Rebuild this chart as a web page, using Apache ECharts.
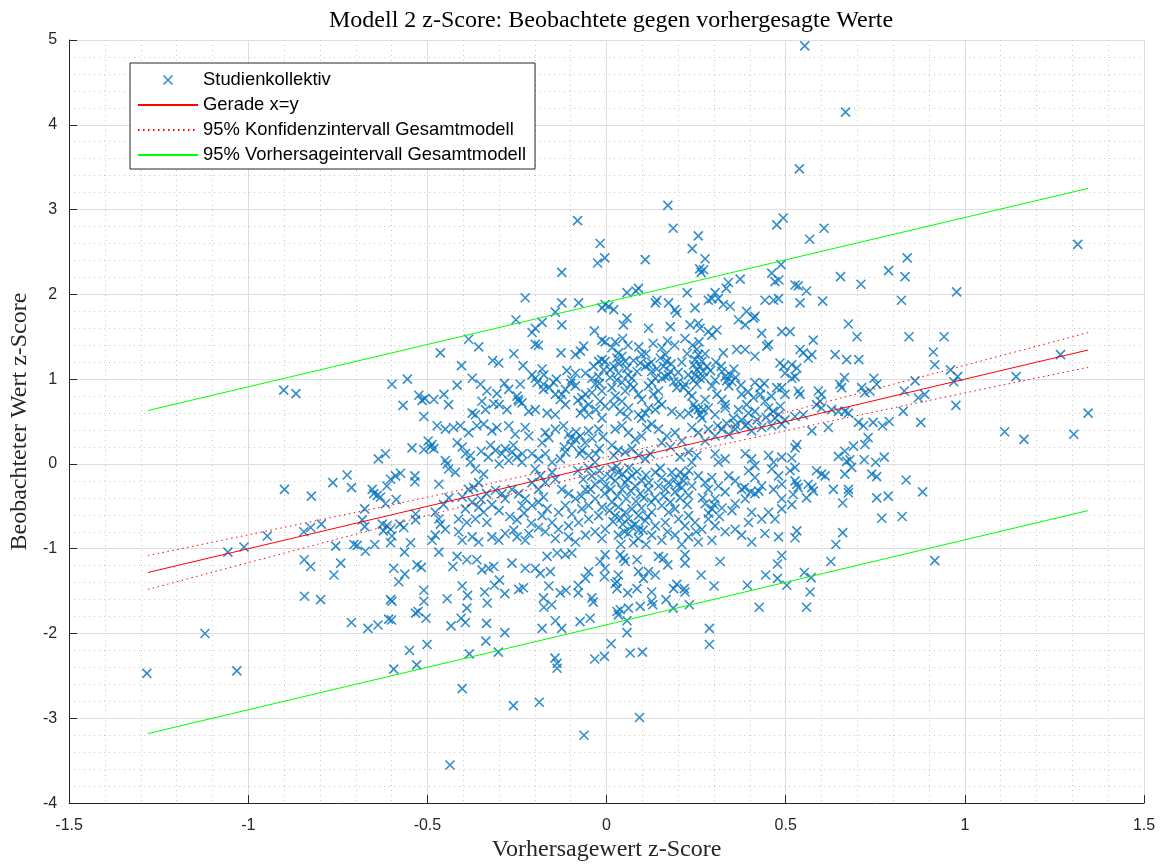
<!DOCTYPE html>
<html>
<head>
<meta charset="utf-8">
<script src="https://cdn.jsdelivr.net/npm/echarts@6/dist/echarts.min.js"></script>
<style>
  html, body { margin: 0; padding: 0; background: #fff; }
  #chart { width: 1164px; height: 867px; }
</style>
</head>
<body>
<div id="chart"></div>
<script>
// Beobachtete z-Scores gegen vorhergesagte z-Scores (Studienkollektiv), [vorhergesagt, beobachtet]
const kollektiv = [
  [-0.081,2.87],[0.171,3.05],[0.186,2.78],[-0.018,2.60],[-0.025,2.37],[-0.005,2.43],[0.108,2.41],[-0.125,2.26],[0.256,2.69],[0.239,2.54],
  [0.275,2.42],[0.26,2.30],[0.271,2.29],[0.264,2.26],[0.475,2.82],[0.493,2.90],[0.487,2.35],[0.461,2.25],[0.470,2.15],[0.481,2.17],
  [0.373,2.18],[0.340,2.14],[0.334,2.07],[0.303,2.02],[0.225,2.02],[0.089,2.07],[0.082,2.04],[0.057,2.02],
  [0.553,4.93],[0.667,4.15],[0.538,3.48],[0.607,2.78],[0.567,2.65],[1.315,2.59],[0.839,2.43],[0.787,2.28],[0.833,2.21],[0.653,2.21],
  [0.710,2.12],[0.526,2.11],[0.535,2.10],[0.558,2.04],[0.977,2.03],
  [-0.901,0.87],[-0.867,0.83],[-0.556,1.00],[-0.599,0.94],[-0.568,0.69],[-0.524,0.81],[-0.515,0.75],[-0.507,0.77],[-0.510,0.56],[-0.543,0.19],
  [-0.510,0.17],[-0.498,0.27],[-0.637,0.06],[-0.617,0.12],[-0.899,-0.30],[-0.824,-0.38],[-0.764,-0.22],[-0.724,-0.13],[-0.712,-0.28],[-0.654,-0.30],
  [-0.650,-0.35],[-0.640,-0.37],[-0.631,-0.39],[-0.617,-0.47],[-0.613,-0.26],[-0.603,-0.18],[-0.589,-0.14],[-0.575,-0.11],[-0.587,-0.42],[-0.535,-0.14],
  [-0.535,-0.21],[-0.675,-0.53],[-0.682,-0.66],[-0.675,-0.74],[-0.626,-0.71],[-0.613,-0.73],[-0.623,-0.79],[-0.603,-0.77],[-0.599,-0.85],[-0.577,-0.71],
  [-0.566,-0.75],[-0.533,-0.59],[-0.533,-0.66],[-0.547,-0.93],[-0.603,-0.93],[-0.647,-0.95],[-0.705,-0.95],[-0.696,-0.96],[-0.756,-0.97],[-0.845,-0.80],
  [-0.826,-0.75],[-0.796,-0.71],[-0.947,-0.85],[-1.012,-0.98],[-1.057,-1.04],
  [-1.121,-2.00],[-1.283,-2.47],[-1.032,-2.44],[-0.844,-1.13],[-0.826,-1.21],[-0.742,-1.17],[-0.761,-1.31],[-0.843,-1.56],[-0.798,-1.60],[-0.712,-1.87],
  [-0.666,-1.94],[-0.638,-1.90],[-0.608,-1.83],[-0.600,-1.84],[-0.603,-1.60],[-0.599,-1.62],[-0.594,-1.23],[-0.563,-1.30],[-0.580,-1.39],[-0.529,-1.19],
  [-0.517,-1.22],[-0.510,-1.49],[-0.510,-1.62],[-0.533,-1.76],[-0.526,-1.74],[-0.504,-1.82],[-0.550,-2.20],[-0.530,-2.37],[-0.594,-2.42],[-0.501,-2.13],
  [-0.673,-1.03],[-0.564,-1.04],
  [-0.437,-3.55],[-0.063,-3.20],[0.092,-2.99],[-0.260,-2.85],[-0.188,-2.81],[-0.403,-2.65],[-0.144,-2.29],[-0.138,-2.35],[-0.138,-2.41],[-0.033,-2.30],
  [-0.006,-2.27],[0.013,-2.12],[0.066,-2.23],[0.100,-2.22],[0.057,-1.99],[0.057,-1.85],[0.287,-1.94],[0.287,-2.13],[-0.383,-2.24],[-0.302,-2.22],
  [-0.337,-2.09],[-0.284,-1.99],[-0.180,-1.94],[-0.143,-1.85],[-0.125,-1.94],[-0.074,-1.86],[-0.046,-1.82],[-0.335,-1.88],[-0.434,-1.91],[-0.406,-1.82],
  [-0.394,-1.87],[-0.39,-1.70],[-0.445,-1.59],[-0.388,-1.55],[-0.403,-1.44],[-0.340,-1.51],[-0.333,-1.64],[-0.284,-1.53],[-0.313,-1.43],[-0.299,-1.37],
  [-0.245,-1.48],[-0.232,-1.46],[-0.176,-1.58],[-0.175,-1.69],[-0.153,-1.66],[-0.161,-1.44],[-0.129,-1.52],[-0.113,-1.49],[-0.079,-1.43],[-0.079,-1.52],
  [-0.041,-1.58],[-0.037,-1.63],[0.029,-1.74],[0.038,-1.72],[0.033,-1.78],[0.061,-1.70],[0.094,-1.68],[0.059,-1.52],[0.085,-1.47],[0.029,-1.39],
  [0.029,-1.47],[0.126,-1.51],[0.126,-1.62],[0.129,-1.66],[0.166,-1.60],[0.186,-1.70],[0.187,-1.47],[0.196,-1.42],[0.217,-1.47],[0.219,-1.51],
  [0.231,-1.66],[0.264,-1.31],[0.300,-1.44],[0.393,-1.43],[0.426,-1.69],[0.444,-1.31],[0.477,-1.35],[0.477,-1.18],[0.489,-1.08],[0.503,-1.43],
  [0.317,-1.15],[0.219,-1.07],[0.219,-1.17],[0.145,-1.09],[0.159,-1.11],[0.171,-1.19],[0.117,-1.27],[0.136,-1.31],[0.103,-1.35],[0.089,-1.27],
  [0.085,-1.13],[0.038,-1.07],[0.047,-1.11],[0.052,-1.15],[0.033,-1.31],[0.024,-1.41],[-0.004,-1.07],[-0.018,-1.15],[-0.004,-1.23],[-0.006,-1.33],
  [-0.05,-1.27],[-0.059,-1.35],[-0.097,-1.05],[-0.115,-1.07],[-0.138,-1.05],[-0.166,-1.09],[-0.157,-1.27],[-0.199,-1.23],[-0.185,-1.29],[-0.227,-1.23],
  [-0.264,-1.17],[-0.348,-1.25],[-0.329,-1.23],[-0.315,-1.21],[-0.362,-1.13],[-0.390,-1.13],[-0.417,-1.09],[-0.429,-1.21],[-0.468,-1.04],
  [0.626,-1.15],[0.916,-1.14],[0.552,-1.28],[0.571,-1.34],[0.568,-1.51],[0.558,-1.69],
  [1.267,1.29],[1.143,1.03],[1.344,0.60],[1.111,0.38],[1.165,0.29],[1.304,0.35],[0.975,0.69],[0.969,0.97],[0.980,1.03],[0.960,1.11],
  [0.916,1.17],[0.912,1.32],[0.942,1.50],[0.844,1.50],[0.823,1.93],[0.861,0.98],[0.831,0.86],[0.870,0.78],[0.888,0.82],[0.828,0.62],
  [0.877,0.49],[0.789,0.50],[0.770,0.45],[0.744,0.49],[0.717,0.45],[0.703,0.49],[0.746,1.01],[0.754,0.94],[0.735,0.86],[0.721,0.84],
  [0.712,0.90],[0.664,1.02],[0.651,0.94],[0.656,0.90],[0.704,1.23],[0.670,1.23],[0.638,1.29],[0.699,1.50],[0.675,1.65],[0.603,1.92],
  [0.540,1.90],[0.577,1.46],[0.540,1.35],[0.549,1.31],[0.573,1.29],[0.563,1.25],[0.517,1.17],[0.531,1.13],[0.526,1.03],[0.535,0.86],
  [0.540,0.82],[0.591,0.86],[0.600,0.82],[0.596,0.74],[0.586,0.70],[0.600,0.66],[0.628,0.64],[0.647,0.62],[0.665,0.62],[0.675,0.60],
  [0.549,0.58],[0.526,0.56],[0.573,0.39],[0.619,0.43],[0.730,0.31],[0.721,0.23],[0.689,0.21],[0.665,0.15],[0.647,0.09],[0.679,0.05],
  [0.670,0.03],[0.684,-0.04],[0.719,0.05],[0.751,0.02],[0.775,0.08],[0.740,-0.12],[0.754,-0.15],[0.665,-0.12],[0.675,-0.30],[0.675,-0.34],
  [0.633,-0.30],[0.659,-0.46],[0.754,-0.40],[0.786,-0.38],[0.836,-0.19],[0.882,-0.33],[0.768,-0.64],[0.825,-0.62],[0.659,-0.81],[0.640,-0.95],
  [0.531,-0.79],[0.526,-0.87],[0.600,-0.12],[0.586,-0.08],[0.610,-0.14],[0.563,-0.24],[0.573,-0.28],[0.577,-0.32],[0.558,-0.40],[0.526,-0.20],
  [0.531,-0.24],[0.535,-0.28],[0.521,-0.36],[0.517,-0.48],[0.526,-0.04],[0.512,-0.08],[0.526,0.19],[0.531,0.23],[0.517,0.07],[0.517,1.01],
  [0.512,1.56],
  [-0.227,1.96],[-0.125,1.90],[-0.078,1.90],[-0.143,1.79],[-0.013,1.84],[-0.004,1.88],[-0.253,1.70],[-0.180,1.67],[-0.199,1.60],[-0.208,1.55],
  [-0.125,1.64],[-0.385,1.47],[-0.357,1.38],[-0.464,1.31],[-0.199,1.41],[-0.190,1.40],[-0.034,1.57],[-0.013,1.46],[-0.004,1.44],[-0.259,1.30],
  [-0.127,1.31],[-0.087,1.29],[-0.073,1.33],[-0.064,1.39],[-0.405,1.16],[-0.318,1.22],[-0.301,1.19],[-0.233,1.16],[-0.180,1.12],[-0.208,1.05],
  [-0.199,1.01],[-0.111,1.10],[-0.087,1.07],[-0.059,1.07],[-0.036,1.15],[-0.022,1.21],[-0.013,1.23],[-0.417,0.93],[-0.375,1.01],[-0.352,0.94],
  [-0.454,0.82],[-0.482,0.76],[-0.441,0.70],[-0.334,0.86],[-0.306,0.83],[-0.348,0.74],[-0.315,0.71],[-0.338,0.64],[-0.273,0.88],[-0.241,0.94],
  [-0.250,0.80],[-0.245,0.74],[-0.194,0.96],[-0.176,0.94],[-0.148,0.96],[-0.176,0.88],[-0.143,0.82],[-0.129,0.76],[-0.125,0.82],[-0.115,0.70],
  [-0.097,0.99],[-0.087,0.92],[-0.069,0.78],[-0.059,0.82],[-0.041,1.01],[-0.032,0.94],[-0.022,1.03],[-0.008,1.11],[-0.004,1.21],[-0.041,0.84],
  [-0.013,0.86],[-0.018,0.74],[-0.004,0.68],[-0.064,0.66],[-0.050,0.58],[-0.073,0.60],[-0.013,0.54],[-0.217,0.62],[-0.199,0.64],[-0.166,0.60],
  [-0.143,0.58],[-0.278,0.64],[-0.236,0.72],[-0.247,0.76],[-0.375,0.60],[-0.366,0.58],[-0.115,0.88],
  [0.006,1.86],[0.020,1.82],[0.057,1.72],[0.047,1.64],[0.117,1.60],[0.140,1.93],[0.136,1.90],[0.173,1.90],[0.191,1.82],[0.196,1.78],
  [0.178,1.62],[0.219,1.48],[0.233,1.64],[0.256,1.66],[0.261,1.60],[0.284,1.56],[0.247,1.84],[0.284,1.93],[0.294,1.95],[0.312,1.95],
  [0.326,1.88],[0.345,1.86],[0.368,1.70],[0.387,1.64],[0.391,1.80],[0.410,1.72],[0.414,1.74],[0.308,1.58],[0.294,1.52],[0.442,1.93],
  [0.466,1.93],[0.480,1.95],[0.433,1.54],[0.489,1.56],[0.452,1.41],[0.447,1.39],[0.363,1.35],[0.387,1.35],[0.414,1.27],[0.326,1.31],
  [0.484,1.19],[0.494,1.15],[0.498,1.07],[0.475,0.90],[0.414,0.96],[0.429,0.90],[0.377,0.82],[0.391,0.70],[0.368,0.64],[0.322,1.09],
  [0.331,1.03],[0.345,1.05],[0.350,0.97],[0.341,0.92],[0.303,0.99],[0.294,0.92],[0.308,0.82],[0.322,0.76],[0.331,0.70],[0.275,0.76],
  [0.270,0.64],[0.284,0.66],[0.252,1.35],[0.256,1.29],[0.247,1.23],[0.243,1.17],[0.266,1.21],[0.261,1.15],[0.252,1.11],[0.247,1.05],
  [0.243,0.99],[0.261,1.01],[0.270,1.09],[0.252,0.94],[0.215,0.90],[0.229,0.84],[0.238,0.80],[0.243,0.70],[0.256,0.64],[0.154,1.37],
  [0.164,1.29],[0.168,1.21],[0.159,1.15],[0.178,1.09],[0.173,1.05],[0.164,1.03],[0.187,0.97],[0.154,1.01],[0.201,0.97],[0.196,0.90],
  [0.219,0.94],[0.098,1.29],[0.094,1.19],[0.108,1.15],[0.117,1.17],[0.126,1.09],[0.136,1.01],[0.126,0.96],[0.117,0.92],[0.145,0.86],
  [0.131,0.82],[0.145,0.74],[0.154,0.70],[0.136,0.64],[0.117,0.66],[0.085,1.09],[0.071,1.01],[0.066,0.94],[0.075,0.90],[0.089,0.82],
  [0.098,0.76],[0.024,1.44],[0.015,1.37],[0.033,1.31],[0.029,1.25],[0.043,1.27],[0.052,1.21],[0.020,1.15],[0.010,1.11],[0.033,1.07],
  [0.057,1.13],[0.029,0.99],[0.043,0.96],[0.015,0.90],[0.052,0.86],[0.024,0.80],[0.043,0.74],[0.020,0.70],[0.061,0.66],[0.038,0.62],
  [0.057,0.56],[0.089,0.58],[0.098,0.54],[0.108,0.60],[0.182,0.62],[0.205,0.58],[0.229,0.60],[0.247,0.66],[0.261,0.58],[0.266,0.54],
  [0.303,0.58],[0.331,0.66],[0.354,0.54],[0.377,0.52],[0.396,0.60],[0.414,0.62],[0.429,0.82],[0.442,0.74],[0.452,0.66],[0.489,0.90],
  [0.498,0.82],[0.480,0.58],[0.470,0.54],[0.498,0.52],
  [-0.473,0.45],[-0.450,0.41],[-0.427,0.43],[-0.408,0.45],[-0.385,0.37],[-0.362,0.45],[-0.343,0.47],[-0.320,0.39],[-0.487,0.23],[-0.492,0.20],
  [-0.482,0.18],[-0.450,0.04],[-0.445,0.00],[-0.468,-0.24],[-0.417,0.25],[-0.403,0.20],[-0.394,0.12],[-0.380,0.10],[-0.366,-0.06],[-0.343,-0.12],
  [-0.357,-0.22],[-0.371,-0.28],[-0.324,0.22],[-0.310,0.16],[-0.292,0.12],[-0.283,0.18],[-0.264,0.14],[-0.250,0.08],[-0.236,0.02],[-0.273,0.04],
  [-0.306,0.43],[-0.273,0.45],[-0.255,0.35],[-0.227,0.43],[-0.217,0.33],[-0.171,0.37],[-0.161,0.31],[-0.180,0.25],[-0.143,0.41],[-0.120,0.45],
  [-0.106,0.35],[-0.087,0.29],[-0.097,0.22],[-0.073,0.33],[-0.050,0.39],[-0.022,0.41],[-0.208,0.12],[-0.190,0.06],[-0.171,0.12],[-0.152,0.02],
  [-0.129,0.06],[-0.115,0.14],[-0.069,0.16],[-0.050,0.10],[-0.032,0.02],[-0.041,-0.14],[-0.032,-0.24],[-0.013,-0.18],[-0.004,-0.26],[-0.059,-0.30],
  [-0.385,-0.30],[-0.403,-0.39],[-0.375,-0.45],[-0.357,-0.51],[-0.394,-0.53],[-0.413,-0.65],[-0.390,-0.69],[-0.366,-0.65],[-0.334,-0.69],[-0.343,-0.57],
  [-0.478,-0.57],[-0.468,-0.65],[-0.464,-0.71],[-0.450,-0.77],[-0.478,-0.84],[-0.487,-0.90],[-0.413,-0.80],[-0.403,-0.90],[-0.375,-0.86],[-0.357,-0.92],
  [-0.320,-0.86],[-0.301,-0.90],[-0.283,-0.82],[-0.259,-0.78],[-0.250,-0.86],[-0.227,-0.90],[-0.217,-0.82],[-0.310,-0.31],[-0.292,-0.35],[-0.283,-0.41],
  [-0.264,-0.30],[-0.245,-0.35],[-0.227,-0.41],[-0.236,-0.49],[-0.208,-0.49],[-0.190,-0.45],[-0.176,-0.39],[-0.166,-0.53],[-0.180,-0.61],[-0.199,-0.06],
  [-0.185,-0.14],[-0.171,-0.22],[-0.190,-0.30],[-0.208,-0.22],[-0.152,-0.10],[-0.143,-0.18],[-0.125,-0.30],[-0.106,-0.35],[-0.087,-0.41],[-0.115,-0.49],
  [-0.134,-0.57],[-0.097,-0.59],[-0.069,-0.53],[-0.050,-0.49],[-0.032,-0.41],[-0.013,-0.51],[-0.022,-0.61],[-0.050,-0.65],[-0.078,-0.69],[-0.106,-0.73],
  [-0.134,-0.77],[-0.152,-0.69],[-0.171,-0.80],[-0.143,-0.88],[-0.106,-0.86],[-0.087,-0.92],[-0.059,-0.84],[-0.032,-0.80],[-0.013,-0.88],[-0.004,-0.77],
  [-0.422,-0.10],[-0.441,-0.06],
  [0.024,0.41],[0.043,0.45],[0.061,0.37],[0.080,0.29],[0.098,0.33],[0.112,0.43],[0.126,0.47],[0.015,0.22],[0.033,0.16],[0.020,0.10],
  [0.052,0.14],[0.071,0.18],[0.089,0.10],[0.108,0.06],[0.122,0.12],[0.145,0.41],[0.168,0.33],[0.191,0.37],[0.210,0.27],[0.178,0.20],
  [0.154,0.25],[0.238,0.43],[0.256,0.37],[0.284,0.41],[0.275,0.27],[0.303,0.33],[0.322,0.41],[0.341,0.35],[0.359,0.41],[0.387,0.45],
  [0.405,0.39],[0.433,0.43],[0.461,0.45],[0.489,0.47],[0.229,0.14],[0.252,0.10],[0.238,0.02],[0.205,0.08],[0.303,0.12],[0.312,0.02],
  [0.331,0.06],[0.387,0.12],[0.405,0.06],[0.414,-0.02],[0.452,0.10],[0.466,0.02],[0.489,0.08],[0.015,-0.06],[0.033,-0.10],[0.024,-0.20],
  [0.052,-0.22],[0.043,-0.30],[0.071,-0.14],[0.080,-0.26],[0.098,-0.20],[0.094,-0.35],[0.117,-0.30],[0.136,-0.10],[0.154,-0.16],[0.145,-0.26],
  [0.173,-0.22],[0.191,-0.18],[0.205,-0.10],[0.219,-0.14],[0.210,-0.28],[0.191,-0.33],[0.229,-0.37],[0.238,-0.26],[0.256,-0.14],[0.275,-0.22],
  [0.294,-0.16],[0.284,-0.30],[0.312,-0.26],[0.331,-0.33],[0.303,-0.41],[0.275,-0.47],[0.294,-0.53],[0.341,-0.14],[0.359,-0.20],[0.377,-0.30],
  [0.396,-0.08],[0.414,-0.16],[0.433,-0.26],[0.414,-0.35],[0.387,-0.41],[0.359,-0.47],[0.350,-0.55],[0.461,-0.06],[0.480,-0.14],[0.489,-0.24],
  [0.466,-0.30],[0.489,-0.41],[0.452,-0.57],[0.489,-0.53],[0.470,-0.65],[0.433,-0.65],[0.396,-0.69],[0.405,-0.57],[0.015,-0.45],[0.033,-0.51],
  [0.024,-0.61],[0.052,-0.57],[0.071,-0.53],[0.061,-0.65],[0.089,-0.61],[0.080,-0.71],[0.108,-0.67],[0.126,-0.57],[0.136,-0.73],[0.154,-0.49],
  [0.173,-0.57],[0.191,-0.53],[0.164,-0.69],[0.201,-0.65],[0.229,-0.61],[0.219,-0.73],[0.247,-0.69],[0.284,-0.65],[0.266,-0.77],[0.303,-0.73],
  [0.331,-0.80],[0.359,-0.77],[0.033,-0.84],[0.061,-0.82],[0.089,-0.88],[0.126,-0.84],[0.154,-0.90],[0.191,-0.84],[0.229,-0.86],[0.256,-0.92],
  [0.294,-0.90],[0.377,-0.84],[0.405,-0.92],[0.442,-0.82],[0.480,-0.86],
  // dicht überlagerte Marker im Zentrum der Punktwolke
  [0.010,-0.15],[0.028,-0.03],[0.045,-0.12],[0.062,-0.05],[0.058,-0.18],[0.085,-0.09],[0.110,-0.13],[0.118,-0.22],[0.068,-0.32],[0.030,-0.38],
  [0.055,-0.41],[0.082,-0.44],[0.104,-0.40],[0.125,-0.45],[0.012,-0.30],[0.008,-0.55],[0.040,-0.64],[0.098,-0.52],[0.115,-0.62],[0.070,-0.74],
  [0.045,-0.71],[0.018,-0.68],[0.102,-0.78],[0.135,-0.40],[0.150,-0.05],[0.165,-0.30],[0.182,-0.10],[0.198,-0.25],[0.215,-0.20],[0.230,-0.08],
  [0.160,-0.38],[0.205,-0.40],[0.178,-0.45],[0.225,-0.48],[0.268,-0.40],[0.300,-0.48],[0.322,-0.52],[0.285,-0.58],[0.315,-0.62],[0.385,-0.28],
  [0.402,-0.33],[0.425,-0.32],[0.050,-0.80],[0.075,-0.93],[0.040,-0.95],[0.090,-0.78],[0.110,-0.95],[0.170,-0.80],[0.210,-0.95],[0.250,-0.80],
  [-0.118,0.20],[-0.100,0.30],[-0.085,0.38],[-0.060,0.25],[-0.040,0.30],[-0.020,0.18],[-0.010,0.32],[-0.075,0.12],[-0.030,0.12],[-0.080,-0.08],
  [-0.065,-0.18],[-0.050,-0.05],[-0.020,-0.08],[-0.005,-0.35],[-0.070,-0.38],[-0.045,-0.30],[-0.380,0.02],[-0.350,0.15],[-0.330,0.08],[-0.300,0.00],
  [-0.260,0.22],[-0.235,0.12],[-0.335,-0.35],[-0.350,-0.42],[-0.320,-0.48],[-0.300,-0.55],[-0.270,-0.62],[-0.250,-0.66],[-0.230,-0.58],[-0.210,-0.70],
  [-0.190,-0.75],[-0.440,-0.40],[-0.455,-0.48],
  [0.010,1.02],[0.035,1.18],[0.060,1.05],[0.075,1.22],[0.090,1.38],[0.110,1.30],[0.125,1.20],[0.140,1.12],[0.150,1.25],[0.180,1.18],
  [0.190,1.40],[0.170,1.45],[0.130,1.42],[0.060,1.40],[0.045,1.48],[0.240,1.40],[0.258,1.44],[0.275,1.30],[0.280,1.15],[0.272,1.02],
  [0.290,1.10],[0.305,1.20],[0.320,1.15],[0.335,0.98],[0.360,1.02],[0.375,0.93],[0.355,1.12],[0.200,1.08],[0.210,1.20],[0.225,1.30],
  [0.228,1.05],[-0.175,1.05],[-0.160,0.90],[-0.140,1.00],[-0.100,0.95],[-0.080,0.75],[-0.050,0.70],[-0.030,0.64],[-0.020,0.95],[-0.285,0.95],
  [-0.300,0.70],[0.310,0.45],[0.335,0.48],[0.360,0.46],[0.395,0.48],[0.420,0.52],[0.445,0.55],[0.465,0.62],[0.485,0.68],[0.460,0.80],
  [0.410,0.78],[0.395,0.85],[0.440,0.95]
];

// Gerade x=y (Endpunkte)
const geradeX = [-1.28, 1.344];

// 95% Konfidenzintervall des Gesamtmodells
const konfX = [-1.28, -0.8, -0.4, 0, 0.4, 0.8, 1.344];
const konfOben = [-1.08, -0.66, -0.30, 0.08, 0.50, 0.94, 1.55];
const konfUnten = [-1.48, -0.94, -0.50, -0.08, 0.30, 0.66, 1.14];

// 95% Vorhersageintervall des Gesamtmodells
const vorhX = [-1.28, 1.344];
const vorhOben = [0.63, 3.25];
const vorhUnten = [-3.18, -0.55];

const pairs = (xs, ys) => xs.map((x, i) => [x, ys[i]]);

const AXIS_COLOR = '#262626';
const SANS = 'Liberation Sans, Arial, sans-serif';
const SERIF = 'Liberation Serif, Times New Roman, serif';
const X_MARK = 'path://M0,0L10,10M10,0L0,10';
const MARK_STYLE = { color: 'rgba(0,0,0,0)', borderColor: '#0072BD', borderWidth: 1.6 };
const NO_SYMBOL = { opacity: 0 };

const axisCommon = {
  type: 'value',
  axisLine: { show: true, onZero: false, lineStyle: { color: AXIS_COLOR, width: 1 } },
  axisTick: { show: true, inside: true, length: 8, lineStyle: { color: AXIS_COLOR, width: 1 } },
  axisLabel: { color: AXIS_COLOR, fontSize: 16, fontFamily: SANS },
  splitLine: { show: true, lineStyle: { color: '#dedede', width: 1 } },
  minorTick: { show: false, splitNumber: 5 },
  minorSplitLine: { show: true, lineStyle: { color: '#c6c6c6', width: 1, type: [1, 4] } },
  nameLocation: 'middle',
  nameTextStyle: { color: AXIS_COLOR, fontSize: 24, fontFamily: SERIF }
};

const chart = echarts.init(document.getElementById('chart'), null, { renderer: 'canvas' });
chart.setOption({
  backgroundColor: '#ffffff',
  animation: false,
  title: {
    text: 'Modell 2 z-Score: Beobachtete gegen vorhergesagte Werte',
    left: 606,
    top: 4,
    textAlign: 'center',
    textStyle: { color: '#000', fontSize: 24, fontWeight: 'normal', fontFamily: SERIF }
  },
  grid: { left: 68, right: 20, top: 40, bottom: 61, containLabel: false },
  xAxis: Object.assign({}, axisCommon, {
    min: -1.5, max: 1.5, interval: 0.5,
    name: 'Vorhersagewert z-Score', nameGap: 33,
    axisLabel: Object.assign({}, axisCommon.axisLabel, { margin: 14 })
  }),
  yAxis: Object.assign({}, axisCommon, {
    min: -4, max: 5, interval: 1,
    name: 'Beobachteter Wert z-Score', nameGap: 35, nameRotate: 90,
    axisLabel: Object.assign({}, axisCommon.axisLabel, { margin: 12 })
  }),
  legend: {
    orient: 'vertical',
    left: 130,
    top: 63,
    padding: [8, 9, 5, 7],
    itemWidth: 60,
    itemHeight: 9,
    itemGap: 7,
    backgroundColor: '#fff',
    borderColor: AXIS_COLOR,
    borderWidth: 1,
    textStyle: { color: '#000', fontSize: 18.4, fontFamily: SANS },
    data: [
      { name: 'Studienkollektiv', icon: X_MARK, itemStyle: MARK_STYLE },
      { name: 'Gerade x=y', itemStyle: NO_SYMBOL },
      { name: '95% Konfidenzintervall Gesamtmodell', itemStyle: NO_SYMBOL },
      { name: '95% Vorhersageintervall Gesamtmodell', itemStyle: NO_SYMBOL }
    ]
  },
  series: [
    {
      name: 'Studienkollektiv',
      type: 'scatter',
      data: kollektiv,
      symbol: X_MARK,
      symbolSize: 9,
      z: 2,
      itemStyle: MARK_STYLE
    },
    {
      name: 'Gerade x=y',
      type: 'line',
      data: pairs(geradeX, geradeX),
      symbol: 'none',
      z: 3,
      itemStyle: { color: '#ff0000' },
      lineStyle: { color: '#ff0000', width: 1 }
    },
    {
      name: '95% Konfidenzintervall Gesamtmodell',
      type: 'line',
      data: pairs(konfX, konfOben),
      smooth: 0.4,
      symbol: 'none',
      z: 3,
      itemStyle: { color: '#ff0000' },
      lineStyle: { color: '#ff0000', width: 1, type: [1.5, 3.5] }
    },
    {
      name: '95% Konfidenzintervall Gesamtmodell',
      type: 'line',
      data: pairs(konfX, konfUnten),
      smooth: 0.4,
      symbol: 'none',
      z: 3,
      itemStyle: { color: '#ff0000' },
      lineStyle: { color: '#ff0000', width: 1, type: [1.5, 3.5] }
    },
    {
      name: '95% Vorhersageintervall Gesamtmodell',
      type: 'line',
      data: pairs(vorhX, vorhOben),
      symbol: 'none',
      z: 3,
      itemStyle: { color: '#00ff00' },
      lineStyle: { color: '#00ff00', width: 1 }
    },
    {
      name: '95% Vorhersageintervall Gesamtmodell',
      type: 'line',
      data: pairs(vorhX, vorhUnten),
      symbol: 'none',
      z: 3,
      itemStyle: { color: '#00ff00' },
      lineStyle: { color: '#00ff00', width: 1 }
    }
  ]
});
</script>
</body>
</html>
